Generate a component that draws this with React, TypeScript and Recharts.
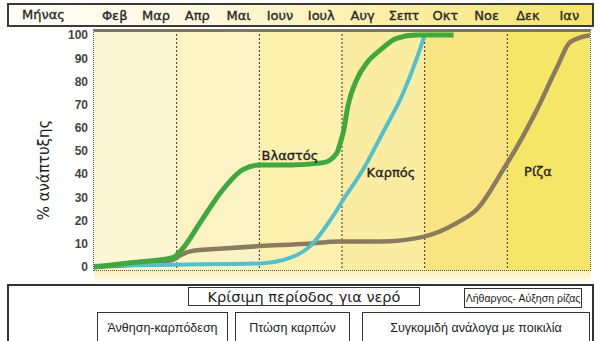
import React from 'react';
import { ComposedChart, Line, XAxis, YAxis, ReferenceArea, ReferenceLine } from 'recharts';

const months = ['Φεβ', 'Μαρ', 'Απρ', 'Μαι', 'Ιουν', 'Ιουλ', 'Αυγ', 'Σεπτ', 'Οκτ', 'Νοε', 'Δεκ', 'Ιαν'];
const yTicks = [0, 10, 20, 30, 40, 50, 60, 70, 80, 90, 100];

const shootMonth = [0, 1, 1.9, 2.1, 2.6, 3.1, 3.6, 4.0, 4.75, 5.55, 5.87, 5.95, 6.03, 6.15, 6.36, 6.6, 6.92, 7.32, 7.8, 8.7];
const shootVal = [0, 2, 4, 7, 20, 33, 42, 44, 44, 45, 49, 53, 58, 70, 81, 88, 93.5, 98.6, 100, 100];

const fruitMonth = [0, 2.0, 4.0, 4.75, 5.23, 5.71, 6.03, 6.51, 6.99, 7.48, 7.81, 8.0];
const fruitVal = [0.5, 1, 1.5, 4, 9, 20, 29, 42, 58, 75, 90, 100];

const rootMonth = [0, 1.9, 2.08, 2.4, 3.12, 4.02, 5.15, 5.95, 6.92, 7.96, 8.78, 9.27, 9.9, 10.24, 10.72, 11.2, 11.52, 12];
const rootVal = [0, 3, 5, 7, 8, 9, 10, 11, 11, 13, 19, 25, 42, 52, 68, 86, 97, 100];

const bandStarts = [0, 2, 4, 6, 8, 10];
const bandColors = ['#fdf6d2', '#fcf3c4', '#fbf0ae', '#faeca0', '#f8e581', '#f5e667'];

const zip = (xs: number[], ys: number[]) => xs.map((m, i) => ({ m, v: ys[i] }));
const shootData = zip(shootMonth, shootVal);
const fruitData = zip(fruitMonth, fruitVal);
const rootData = zip(rootMonth, rootVal);

const abs = (l: number, t: number, w: number, h: number): React.CSSProperties => ({
  position: 'absolute', left: l, top: t, width: w, height: h, boxSizing: 'border-box',
});

const boxStyle = (l: number, t: number, w: number, h: number, fs: number, fam: string): React.CSSProperties => ({
  ...abs(l, t, w, h),
  border: '1px solid #333',
  background: '#fff',
  display: 'flex', alignItems: 'center', justifyContent: 'center',
  fontFamily: fam, fontSize: fs, color: '#222', whiteSpace: 'nowrap',
});

const heavy: React.CSSProperties = { WebkitTextStroke: '0.35px #2a2a2a' } as React.CSSProperties;

const MonthTick = (props: any) => {
  const { x, payload } = props;
  const idx = Math.floor(payload.value);
  return (
    <text x={x} y={20} textAnchor="middle" fontFamily="DejaVu Sans" fontSize={13} fill="#2a2a2a" stroke="#2a2a2a" strokeWidth={0.35}>
      {months[idx]}
    </text>
  );
};

const labelStyle = (l: number, t: number): React.CSSProperties => ({
  position: 'absolute', left: l, top: t, transform: 'translate(-50%,-50%)',
  fontFamily: 'DejaVu Sans', fontSize: 13, color: '#1a1a1a', ...heavy,
});

export default function App() {
  return (
    <div style={{ position: 'absolute', left: 0, top: 0, width: 600, height: 341, background: '#fff', overflow: 'hidden' }}>
      {/* header strip */}
      <div style={{ ...abs(7, 3, 587, 24), border: '2px solid #3a3a3a', background: 'linear-gradient(to right, #fffef8 0%, #fdf8dc 35%, #fbefa8 65%, #f5e46a 100%)' }} />
      <div style={{ position: 'absolute', left: 22, top: 7, fontFamily: 'DejaVu Sans', fontSize: 13, color: '#2a2a2a', ...heavy }}>Μήνας</div>
      {/* strip under plot */}
      <div style={{ ...abs(94, 270, 496, 12), background: 'linear-gradient(to bottom, #faf0b0, #fffdf2)' }} />
      <div style={{ position: 'absolute', left: 0, top: 0 }}>
        <ComposedChart width={600} height={341} margin={{ top: 6, right: 10, bottom: 71, left: 54 }}>
          <XAxis
            dataKey="m"
            orientation="top"
            type="number"
            domain={[0, 12]}
            allowDataOverflow
            ticks={months.map((_, i) => i + 0.5)}
            height={24}
            axisLine={false}
            tickLine={false}
            tick={MonthTick}
            interval={0}
          />
          <YAxis
            type="number"
            domain={[-1.3, 102.2]}
            allowDataOverflow
            ticks={yTicks}
            width={40}
            axisLine={false}
            tickLine={false}
            tickMargin={0}
            interval={0}
            tick={{ fontFamily: 'Liberation Sans', fontSize: 12, fill: '#444', fontWeight: 'bold' }}
          />
          {bandStarts.map((s, i) => (
            <ReferenceArea key={i} x1={s} x2={s + 2} y1={-1.3} y2={102.2} fill={bandColors[i]} fillOpacity={1} stroke="none" ifOverflow="hidden" />
          ))}
          {bandStarts.slice(1).map((s) => (
            <ReferenceLine key={s} x={s} stroke="#333" strokeDasharray="2 2" strokeWidth={1} />
          ))}
          <Line data={rootData} dataKey="v" type="monotone" stroke="#8a7a5e" strokeWidth={4.5} dot={false} isAnimationActive={false} />
          <Line data={fruitData} dataKey="v" type="monotone" stroke="#52c0cf" strokeWidth={4} dot={false} isAnimationActive={false} />
          <Line data={shootData} dataKey="v" type="monotone" stroke="#3fa83f" strokeWidth={5} dot={false} isAnimationActive={false} />
        </ComposedChart>
      </div>
      {/* plot frame */}
      <div style={{ ...abs(93, 29, 498, 242), border: '1px dotted #555', borderTop: '3px solid #7d7564', pointerEvents: 'none' }} />
      {/* curve labels */}
      <div style={labelStyle(290, 155)}>Βλαστός</div>
      <div style={labelStyle(391, 172)}>Καρπός</div>
      <div style={labelStyle(538, 171)}>Ρίζα</div>
      {/* y axis title */}
      <div style={{ position: 'absolute', left: 44, top: 170, transform: 'translate(-50%,-50%) rotate(-90deg)', fontFamily: 'DejaVu Sans', fontSize: 15, color: '#222', whiteSpace: 'nowrap' }}>% ανάπτυξης</div>
      {/* bottom panel */}
      <div style={{ ...abs(7, 284, 587, 62), border: '2px solid #333', background: '#fff' }} />
      <div style={boxStyle(188, 287, 232, 19, 14.5, 'DejaVu Sans')}>Κρίσιμη περίοδος για νερό</div>
      <div style={boxStyle(464, 288, 118, 20, 10.5, 'Liberation Sans')}>Λήθαργος- Αύξηση ρίζας</div>
      <div style={boxStyle(97, 312, 131, 32, 12.5, 'Liberation Sans')}>Άνθηση-καρπόδεση</div>
      <div style={boxStyle(235, 312, 115, 32, 12.5, 'Liberation Sans')}>Πτώση καρπών</div>
      <div style={boxStyle(362, 312, 228, 32, 12.5, 'Liberation Sans')}>Συγκομιδή ανάλογα με ποικιλία</div>
    </div>
  );
}
